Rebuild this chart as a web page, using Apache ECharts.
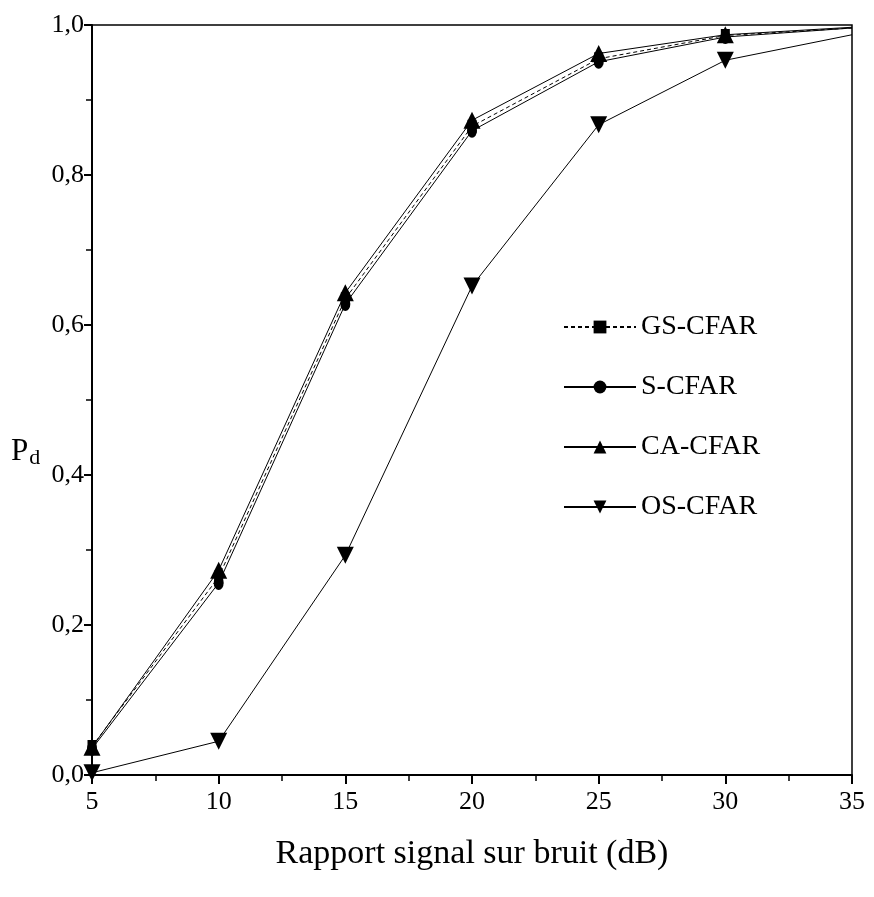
<!DOCTYPE html>
<html>
<head>
<meta charset="utf-8">
<style>
  html, body { margin: 0; padding: 0; background: #fff; }
  #chart { width: 874px; height: 897px; }
</style>
</head>
<body>
<div id="chart"></div>
<script src="https://cdn.jsdelivr.net/npm/echarts@6/dist/echarts.min.js"></script>
<script type="text/javascript">
  // SNR (dB)
  var snr = [5, 10, 15, 20, 25, 30, 35];
  // probabilités de détection
  var gsCfar = [0.038, 0.264, 0.635, 0.865, 0.955, 0.986, 0.996];
  var sCfar  = [0.035, 0.256, 0.628, 0.859, 0.951, 0.984, 0.996];
  var caCfar = [0.037, 0.273, 0.643, 0.873, 0.962, 0.987, 0.997];
  var osCfar = [0.003, 0.045, 0.293, 0.652, 0.867, 0.953, 0.987];

  function pairs(ys) {
    var out = [];
    for (var i = 0; i < snr.length; i++) {
      out.push([snr[i], ys[i]]);
    }
    return out;
  }

  var font = 'Liberation Serif';
  var chart = echarts.init(document.getElementById('chart'));

  function mk(name, ys, symbol, size, dashed, rotate) {
    return {
      name: name,
      type: 'line',
      // pas de marqueur au dernier point (35 dB)
      data: pairs(ys).map(function (d, i) {
        return i === snr.length - 1 ? { value: d, symbolSize: 0 } : d;
      }),
      symbol: symbol,
      symbolSize: size,
      symbolRotate: rotate || 0,
      showAllSymbol: true,
      lineStyle: { color: '#000', width: 1, type: dashed ? [4, 3] : 'solid' },
      itemStyle: { color: '#000' },
      animation: false
    };
  }

  var option = {
    backgroundColor: '#fff',
    grid: {
      left: 92, right: 22, top: 25, bottom: 122,
      show: true, borderColor: '#000', borderWidth: 1.5
    },
    legend: {
      orient: 'vertical',
      left: 558,
      top: 308,
      itemWidth: 72,
      itemHeight: 16,
      itemGap: 32,
      textStyle: { fontFamily: font, fontSize: 28, color: '#000', padding: [0, 0, 0, 0] },
      data: ['GS-CFAR', 'S-CFAR', 'CA-CFAR', 'OS-CFAR']
    },
    graphic: [{
      type: 'text',
      left: 11,
      top: 436,
      style: {
        text: '{p|P}{d|d}',
        rich: {
          p: { fontFamily: font, fontSize: 31, fill: '#000' },
          d: { fontFamily: font, fontSize: 22, fill: '#000', padding: [14, 0, 0, 1] }
        }
      }
    }],
    xAxis: {
      type: 'value',
      min: 5, max: 35, interval: 5,
      axisLine: { lineStyle: { color: '#000', width: 2 } },
      axisTick: { inside: false, length: 9, lineStyle: { color: '#000', width: 2 } },
      minorTick: { show: true, splitNumber: 2, length: 6, lineStyle: { color: '#000', width: 1.5 } },
      splitLine: { show: false },
      axisLabel: { fontFamily: font, fontSize: 26, color: '#000', margin: 14 },
      name: 'Rapport signal sur bruit (dB)',
      nameLocation: 'middle',
      nameGap: 62,
      nameTextStyle: { fontFamily: font, fontSize: 34, color: '#000' }
    },
    yAxis: {
      type: 'value',
      min: 0, max: 1, interval: 0.2,
      axisLine: { lineStyle: { color: '#000', width: 2 } },
      axisTick: { inside: false, length: 8, lineStyle: { color: '#000', width: 2 } },
      minorTick: { show: true, splitNumber: 2, length: 6, lineStyle: { color: '#000', width: 1.5 } },
      splitLine: { show: false },
      axisLabel: {
        fontFamily: font, fontSize: 26, color: '#000', margin: 8,
        formatter: function (v) { return v.toFixed(1).replace('.', ','); }
      }
    },
    series: [
      mk('GS-CFAR', gsCfar, 'rect', [9, 13], true),
      mk('S-CFAR', sCfar, 'circle', [10, 14], false),
      mk('CA-CFAR', caCfar, 'triangle', [17, 17], false),
      mk('OS-CFAR', osCfar, 'triangle', [17, 17], false, 180)
    ]
  };

  chart.setOption(option);
</script>
</body>
</html>
